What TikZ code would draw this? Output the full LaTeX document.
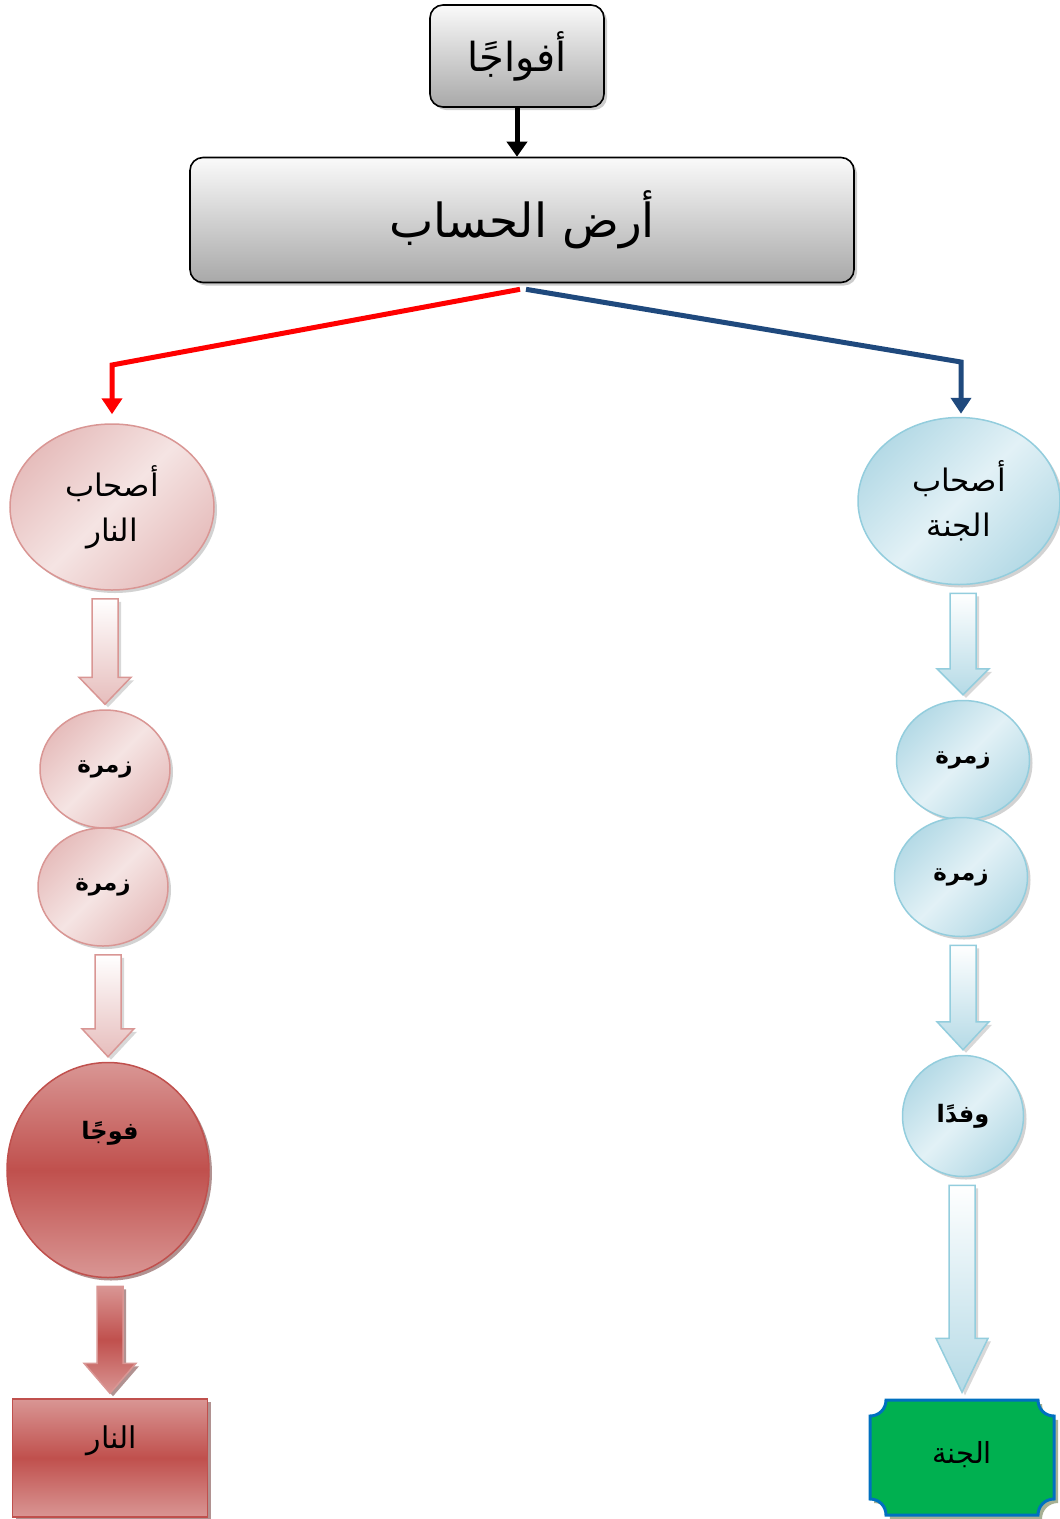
\documentclass[tikz,border=0pt]{standalone}
\usepackage{fontspec}
\usepackage{tikz}
\usetikzlibrary{positioning,shapes.geometric,shadows,arrows.meta,calc}
\TeXXeTstate=1
\newfontfamily\arabicfont[Script=Arabic]{DejaVu Sans}

\definecolor{pinkL}{HTML}{F5E4E3}
\definecolor{pinkD}{HTML}{E6BDBC}
\definecolor{pinkB}{HTML}{D99694}
\definecolor{redL}{HTML}{D99694}
\definecolor{redM}{HTML}{C0504D}
\definecolor{redS}{HTML}{632523}
\definecolor{blueL}{HTML}{E2F1F6}
\definecolor{blueD}{HTML}{B5DAE6}
\definecolor{blueB}{HTML}{93CDDD}
\definecolor{navy}{HTML}{1F497D}
\definecolor{jgreen}{HTML}{00B050}
\definecolor{jblue}{HTML}{0070C0}
\definecolor{olive}{HTML}{4F6228}

% block arrow: style, from node, to node, head length
\newcommand{\blockarrow}[4]{%
  \path[#1] let \p1=(#2.south), \p2=(#3.north) in
    (\x2-13pt,\y1-8pt) -- (\x2+13pt,\y1-8pt) -- (\x2+13pt,\y2+5pt+#4) --
    (\x2+26pt,\y2+5pt+#4) -- (\x2,\y2+5pt) -- (\x2-26pt,\y2+5pt+#4) --
    (\x2-13pt,\y2+5pt+#4) -- cycle;}

\tikzset{
  arabic/.style={font=\arabicfont\fontsize{#1}{45}\selectfont, align=center, inner sep=0pt},
  arabicbold/.style={font=\arabicfont\bfseries\fontsize{#1}{45}\selectfont, align=center, inner sep=0pt},
  grayBox/.style={draw, line width=1.6pt, rounded corners=13pt, top color=gray!4, bottom color=gray!68,
    drop shadow={shadow xshift=3pt, shadow yshift=-3pt, fill=black!40}},
  pinkBall/.style={ellipse, draw=pinkB, line width=1.5pt, inner sep=0pt,
    top color=pinkD, bottom color=pinkD, middle color=pinkL, shading angle=45,
    drop shadow={shadow xshift=3pt, shadow yshift=-3pt, fill=black!35}},
  blueBall/.style={ellipse, draw=blueB, line width=1.5pt, inner sep=0pt,
    top color=blueD, bottom color=blueD, middle color=blueL, shading angle=45,
    drop shadow={shadow xshift=3pt, shadow yshift=-3pt, fill=black!35}},
  redBall/.style={ellipse, draw=redM, line width=1.5pt, inner sep=0pt,
    top color=redL, bottom color=redL, middle color=redM,
    drop shadow={shadow xshift=3pt, shadow yshift=-3pt, fill=redS}},
  pinkArrow/.style={draw=pinkB, line width=1.5pt, top color=white, bottom color=pinkD,
    drop shadow={shadow xshift=3pt, shadow yshift=-3pt, fill=black!30}},
  blueArrow/.style={draw=blueB, line width=1.5pt, top color=white, bottom color=blueD,
    drop shadow={shadow xshift=3pt, shadow yshift=-3pt, fill=black!30}},
  redArrow/.style={draw=redL, line width=1.5pt, top color=redL, bottom color=redL, middle color=redM,
    drop shadow={shadow xshift=3pt, shadow yshift=-3pt, fill=redS}},
  branch/.style={line width=5pt, -{Triangle[length=16pt,width=20pt]}}
}

\begin{document}
\begin{tikzpicture}[x=1pt, y=-1pt]
    \useasboundingbox (0,0) rectangle (1060,1519);

    % top boxes
    \node[grayBox, minimum width=174pt, minimum height=102pt, arabic=40] (afwaj) at (517,56) {\beginR أفواجًا\endR};
    \node[grayBox, minimum width=664pt, minimum height=125pt, arabic=47] (hisab) at (522,220) {\beginR أرض الحساب\endR};

    % left column: the fire
    \node[pinkBall, minimum width=204pt, minimum height=166pt, arabic=31] (ashabN) at (112,507) {\beginR أصحاب\endR\\\beginR النار\endR};
    \node[pinkBall, minimum width=130pt, minimum height=118pt, arabicbold=23] (zumraN1) at (105,769) {\beginR زمرة\endR};
    \node[pinkBall, minimum width=130pt, minimum height=118pt, arabicbold=23] (zumraN2) at (103,887) {\beginR زمرة\endR};
    \node[redBall, minimum width=202pt, minimum height=215pt] (fawj) at (108,1170) {};
    \node[arabicbold=24] (fawjtext) at (110,1133) {\beginR فوجًا\endR};
    \node[rectangle, draw=redM, line width=1.5pt, top color=redL, bottom color=redL, middle color=redM,
      drop shadow={shadow xshift=3pt, shadow yshift=-3pt, fill=redS},
      minimum width=195pt, minimum height=118pt] (nar) at (110,1458) {};
    \node[arabic=30] (nartext) at (112,1441) {\beginR النار\endR};

    % right column: the garden
    \node[blueBall, minimum width=202pt, minimum height=167pt, arabic=31] (ashabJ) at (959,501) {\beginR أصحاب\endR\\\beginR الجنة\endR};
    \node[blueBall, minimum width=133pt, minimum height=119pt, arabicbold=23] (zumraJ1) at (963,760) {\beginR زمرة\endR};
    \node[blueBall, minimum width=133pt, minimum height=119pt, arabicbold=23] (zumraJ2) at (961,877) {\beginR زمرة\endR};
    \node[blueBall, minimum width=121pt, minimum height=121pt, arabicbold=24] (wafd) at (963,1116) {\beginR وفدًا\endR};
    \path[fill=jgreen, draw=jblue, line width=3pt,
      drop shadow={shadow xshift=4pt, shadow yshift=-4pt, fill=olive}]
      (886,1400) -- (1038,1400) .. controls (1038,1409) and (1045,1416) .. (1054,1416)
      -- (1054,1499) .. controls (1045,1499) and (1038,1506) .. (1038,1515)
      -- (886,1515) .. controls (886,1506) and (879,1499) .. (870,1499)
      -- (870,1416) .. controls (879,1416) and (886,1409) .. (886,1400) -- cycle;
    \node[minimum width=184pt, minimum height=115pt, arabic=29] (jannah) at (962,1455) {\beginR الجنة\endR};

    % connectors
    \draw[line width=5pt, -{Triangle[length=15pt,width=20pt]}] (afwaj.south) -- (afwaj.south |- hisab.north);
    \coordinate (elbowL) at (112,365);
    \coordinate (elbowR) at (961,362);
    \draw[branch, red, shorten >=9pt] ($(hisab.south)+(-2,6)$) -- (elbowL) -- (elbowL |- ashabN.north);
    \draw[branch, navy, shorten >=3pt] ($(hisab.south)+(4,6)$) -- (elbowR) -- (elbowR |- ashabJ.north);

    \blockarrow{pinkArrow}{ashabN}{zumraN1}{27pt}
    \blockarrow{pinkArrow}{zumraN2}{fawj}{28pt}
    \blockarrow{redArrow}{fawj}{nar}{30pt}
    \blockarrow{blueArrow}{ashabJ}{zumraJ1}{26pt}
    \blockarrow{blueArrow}{zumraJ2}{wafd}{28pt}
    \blockarrow{blueArrow}{wafd}{jannah}{54pt}

\end{tikzpicture}
\end{document}
